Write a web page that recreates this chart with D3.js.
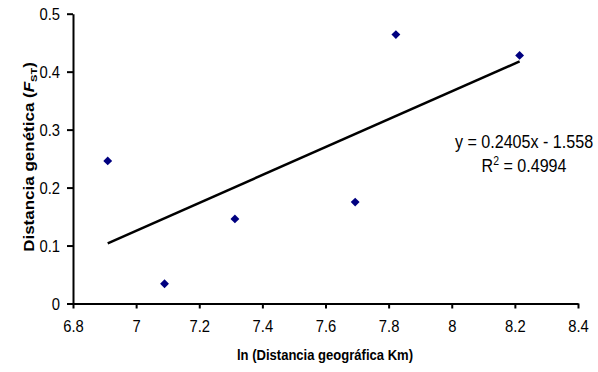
<!DOCTYPE html>
<html>
<head>
<meta charset="utf-8">
<script src="https://cdn.jsdelivr.net/npm/d3@7"></script>
<style>
  body { margin: 0; background: #fff; }
  text { font-family: "Liberation Sans", Arial, sans-serif; }
</style>
</head>
<body>
<svg width="598" height="372"></svg>
<script>
  // data
  const distKm = [6.91, 7.09, 7.313, 7.694, 7.823, 8.215];
  const fst = [0.246, 0.034, 0.146, 0.175, 0.464, 0.428];
  const xTicks = [6.8, 7, 7.2, 7.4, 7.6, 7.8, 8, 8.2, 8.4];
  const yTicks = [0, 0.1, 0.2, 0.3, 0.4, 0.5];
  const slope = 0.2405, intercept = -1.558;

  // the original picture is squeezed sideways, so text is too
  const sq = 0.87;

  const svg = d3.select('svg');
  const x = d3.scaleLinear().domain([6.8, 8.4]).range([73, 578]);
  const y = d3.scaleLinear().domain([0, 0.5]).range([303.5, 13.7]);

  // y axis
  const yAxis = d3.axisLeft(y).tickValues(yTicks).tickSize(6).tickSizeOuter(0).tickFormat(d3.format('~g'));
  const gy = svg.append('g').attr('transform', 'translate(' + x(6.8) + ',0)').call(yAxis);
  gy.select('.domain').attr('stroke-width', 2);
  gy.selectAll('.tick line').attr('stroke-width', 2);
  gy.selectAll('.tick text')
    .attr('font-size', 17).attr('x', 0).attr('dy', '0.35em')
    .attr('transform', 'translate(-13,0) scale(' + sq + ',1)')
    .attr('font-family', '"Liberation Sans", Arial, sans-serif');

  // x axis
  const xAxis = d3.axisBottom(x).tickValues(xTicks).tickSize(5).tickSizeOuter(0).tickFormat(d3.format('~g'));
  const gx = svg.append('g').attr('transform', 'translate(0,' + y(0) + ')').call(xAxis);
  gx.select('.domain').attr('stroke-width', 2);
  gx.selectAll('.tick line').attr('stroke-width', 2);
  gx.selectAll('.tick text')
    .attr('font-size', 17).attr('y', 0).attr('dy', 0)
    .attr('transform', 'translate(0,28) scale(' + sq + ',1)')
    .attr('font-family', '"Liberation Sans", Arial, sans-serif');

  // trend line
  const xr = d3.extent(distKm);
  svg.append('line')
    .attr('x1', x(xr[0])).attr('y1', y(slope * xr[0] + intercept))
    .attr('x2', x(xr[1])).attr('y2', y(slope * xr[1] + intercept))
    .attr('stroke', 'black').attr('stroke-width', 2.5);

  // points
  const diamond = d3.symbol().type(d3.symbolDiamond2).size(50);
  svg.selectAll('.pt')
    .data(distKm.map((d, i) => [d, fst[i]]))
    .enter().append('path')
    .attr('class', 'pt')
    .attr('d', diamond)
    .attr('transform', d => 'translate(' + x(d[0]) + ',' + y(d[1]) + ')')
    .attr('fill', '#000080');

  // equation
  svg.append('text').attr('transform', 'translate(524,148) scale(' + sq + ',1)')
    .attr('text-anchor', 'middle').attr('font-size', 18.5).text('y = 0.2405x - 1.558');
  const r2 = svg.append('text').attr('transform', 'translate(524,172) scale(' + sq + ',1)')
    .attr('text-anchor', 'middle').attr('font-size', 18.5);
  r2.append('tspan').text('R');
  r2.append('tspan').attr('font-size', 12).attr('dy', -7).text('2');
  r2.append('tspan').attr('dy', 7).text(' = 0.4994');

  // axis titles
  svg.append('text').attr('transform', 'translate(325,360) scale(' + sq + ',1)')
    .attr('text-anchor', 'middle').attr('font-size', 15).attr('font-weight', 'bold')
    .text('ln (Distancia geográfica Km)');
  const yt = svg.append('text').attr('transform', 'translate(34,157) scale(' + sq + ',1) rotate(-90)')
    .attr('text-anchor', 'middle').attr('font-size', 17).attr('font-weight', 'bold');
  yt.append('tspan').text('Distancia genética (');
  yt.append('tspan').attr('font-style', 'italic').text('F');
  yt.append('tspan').attr('font-size', 11).attr('dy', 3).text('ST');
  yt.append('tspan').attr('dy', -3).text(')');
</script>
</body>
</html>
